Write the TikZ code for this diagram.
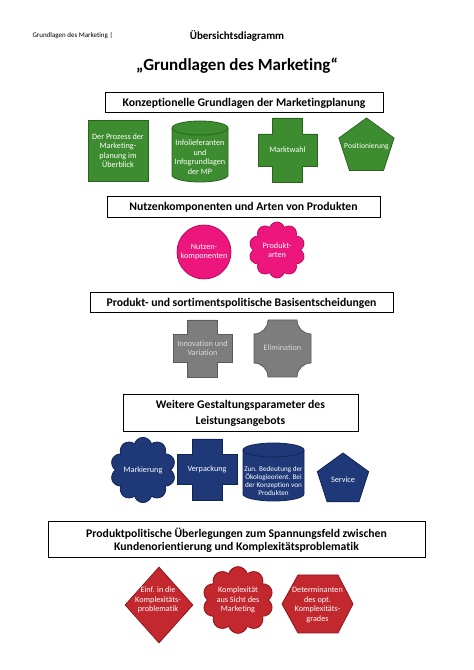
\documentclass[tikz,border=0pt]{standalone}
\usepackage{fontspec}
\setmainfont{Carlito}[Ligatures=NoCommon]
\usepackage{tikz}
\usetikzlibrary{shapes.geometric,shapes.symbols}

\definecolor{mkgreen}{RGB}{62,140,48}
\definecolor{mkgreendark}{RGB}{40,100,30}
\definecolor{mkpink}{RGB}{236,22,124}
\definecolor{mkpinkdark}{RGB}{190,10,95}
\definecolor{mkgray}{RGB}{125,125,125}
\definecolor{mkgraydark}{RGB}{90,90,90}
\definecolor{mkblue}{RGB}{31,56,120}
\definecolor{mkbluedark}{RGB}{18,36,85}
\definecolor{mkred}{RGB}{194,40,46}
\definecolor{mkreddark}{RGB}{145,22,28}

% cross: centre x, centre y, width, height, style
\newcommand{\crossat}[5]{%
  \filldraw[#5] ({#1-#3/2},{#2+#4/4}) -- ({#1-#3/4},{#2+#4/4}) -- ({#1-#3/4},{#2+#4/2})
    -- ({#1+#3/4},{#2+#4/2}) -- ({#1+#3/4},{#2+#4/4}) -- ({#1+#3/2},{#2+#4/4})
    -- ({#1+#3/2},{#2-#4/4}) -- ({#1+#3/4},{#2-#4/4}) -- ({#1+#3/4},{#2-#4/2})
    -- ({#1-#3/4},{#2-#4/2}) -- ({#1-#3/4},{#2-#4/4}) -- ({#1-#3/2},{#2-#4/4}) -- cycle;}
% cylinder: left x, right x, top y, bottom y, style
\newcommand{\drumat}[5]{%
  \filldraw[#5] (#1,{#3-7}) -- (#1,{#4+7}) arc[start angle=180,end angle=360,x radius={(#2-#1)/2},y radius=7]
    -- (#2,{#3-7}) arc[start angle=0,end angle=180,x radius={(#2-#1)/2},y radius=7] -- cycle;
  \draw[#5] (#1,{#3-7}) arc[start angle=180,end angle=360,x radius={(#2-#1)/2},y radius=7];}

\tikzset{
  titlebox/.style={draw, line width=1pt, fill=white, inner sep=0pt, align=center,
    font=\bfseries\fontsize{11.7}{16.7}\selectfont},
  shapetext/.style={text=white, align=center, inner sep=0pt, font=\fontsize{8.2}{9.5}\selectfont},
  greenshape/.style={fill=mkgreen, draw=mkgreendark, line width=0.8pt},
  pinkshape/.style={fill=mkpink, draw=mkpinkdark, line width=0.8pt},
  grayshape/.style={fill=mkgray, draw=mkgraydark, line width=0.8pt},
  blueshape/.style={fill=mkblue, draw=mkbluedark, line width=0.8pt},
  redshape/.style={fill=mkred, draw=mkreddark, line width=0.8pt},
}

\begin{document}
\begin{tikzpicture}[x=1pt,y=1pt]
	\fill[white] (0,0) rectangle (474,670);
	\useasboundingbox (0,0) rectangle (474,670);

	% header
	\node[anchor=west, font=\fontsize{7}{8}\selectfont] (head) at (29,634) {Grundlagen des Marketing |};
	\node[font=\bfseries\fontsize{11}{13}\selectfont] (kind) at (237,634) {Übersichtsdiagramm};
	\node[font=\bfseries\fontsize{17}{20}\selectfont] (title) at (237,604) {„Grundlagen des Marketing“};

	% part 1
	\node[titlebox, minimum width=278, minimum height=20] (konz) at (244,567) {Konzeptionelle Grundlagen der Marketingplanung};
	\node[rectangle, greenshape, shapetext, minimum width=60, minimum height=61] (prozess) at (118,519.5) {Der Prozess der\\Marketing-\\planung im\\Überblick};
	\drumat{172}{228}{549}{488}{greenshape}
	\node[shapetext] (info) at (200,513) {Infolieferanten\\und\\Infogrundlagen\\der MP};
	\crossat{287.5}{520}{59}{64}{greenshape}
	\node[shapetext] (markt) at (287.5,520) {Marktwahl};
	\node[regular polygon, regular polygon sides=5, greenshape, minimum size=58, inner sep=0pt] (posi) at (366.5,523) {};
	\node[shapetext, font=\fontsize{7.6}{9}\selectfont] at (posi.center) {Positionierung};

	% part 2
	\node[titlebox, minimum width=273, minimum height=21] (nutzen) at (243.5,462.5) {Nutzenkomponenten und Arten von Produkten};
	\node[circle, pinkshape, shapetext, minimum size=54] (komp) at (204,418) {Nutzen-\\komponenten};
	\node[cloud, cloud puffs=10, aspect=1, pinkshape, shapetext, minimum width=56, minimum height=56] (arten) at (277,420) {Produkt-\\arten};

	% part 3
	\node[titlebox, minimum width=303, minimum height=20] (sorti) at (241.5,367) {Produkt- und sortimentspolitische Basisentscheidungen};
	\crossat{202.5}{321.5}{59}{57}{grayshape}
	\node[shapetext, text=white!85!black] (innov) at (202.5,322) {Innovation und\\Variation};
	\filldraw[grayshape] (268,350) -- (297,350) arc[start angle=180,end angle=270,radius=14]
		-- (311,307) arc[start angle=90,end angle=180,radius=14]
		-- (268,293) arc[start angle=0,end angle=90,radius=14]
		-- (254,336) arc[start angle=270,end angle=360,radius=14] -- cycle;
	\node[shapetext, text=white!85!black] (elim) at (282.5,322) {Elimination};

	% part 4
	\node[titlebox, minimum width=235, minimum height=37] (gestalt) at (240.5,256.5) {Weitere Gestaltungsparameter des\\Leistungsangebots};
	\node[cloud, cloud puffs=10, aspect=1, blueshape, shapetext, minimum width=58, minimum height=58] (markier) at (143,200) {Markierung};
	\crossat{207}{200.5}{60}{61}{blueshape}
	\node[shapetext] (verpack) at (207,200.5) {Verpackung};
	\drumat{243}{304}{227}{169}{blueshape}
	\node[shapetext, font=\fontsize{7.2}{8.3}\selectfont] (oeko) at (273.5,189) {Zun. Bedeutung der\\Ökologieorient. Bei\\der Konzeption von\\Produkten};
	\node[regular polygon, regular polygon sides=5, blueshape, minimum size=54, inner sep=0pt] (service) at (343,190) {};
	\node[shapetext] at (service.center) {Service};

	% part 5
	\node[titlebox, minimum width=377, minimum height=36, font=\bfseries\fontsize{11.7}{13.3}\selectfont] (spann) at (236.5,130) {Produktpolitische Überlegungen zum Spannungsfeld zwischen\\Kundenorientierung und Komplexitätsproblematik};
	\node[diamond, redshape, minimum width=68, minimum height=76, inner sep=0pt] (einf) at (159,65) {};
	\node[shapetext] at (158,70) {Einf. in die\\Komplexitäts-\\problematik};
	\node[cloud, cloud puffs=10, aspect=1.1, redshape, shapetext, minimum width=62, minimum height=58] (sicht) at (238,70) {Komplexität\\aus Sicht des\\Marketing};
	\filldraw[redshape] (282,66) -- (298,95) -- (338,95) -- (353,66) -- (338,37) -- (298,37) -- cycle;
	\node[shapetext] (determ) at (317.5,65) {Determinanten\\des opt.\\Komplexitäts-\\grades};
\end{tikzpicture}
\end{document}
